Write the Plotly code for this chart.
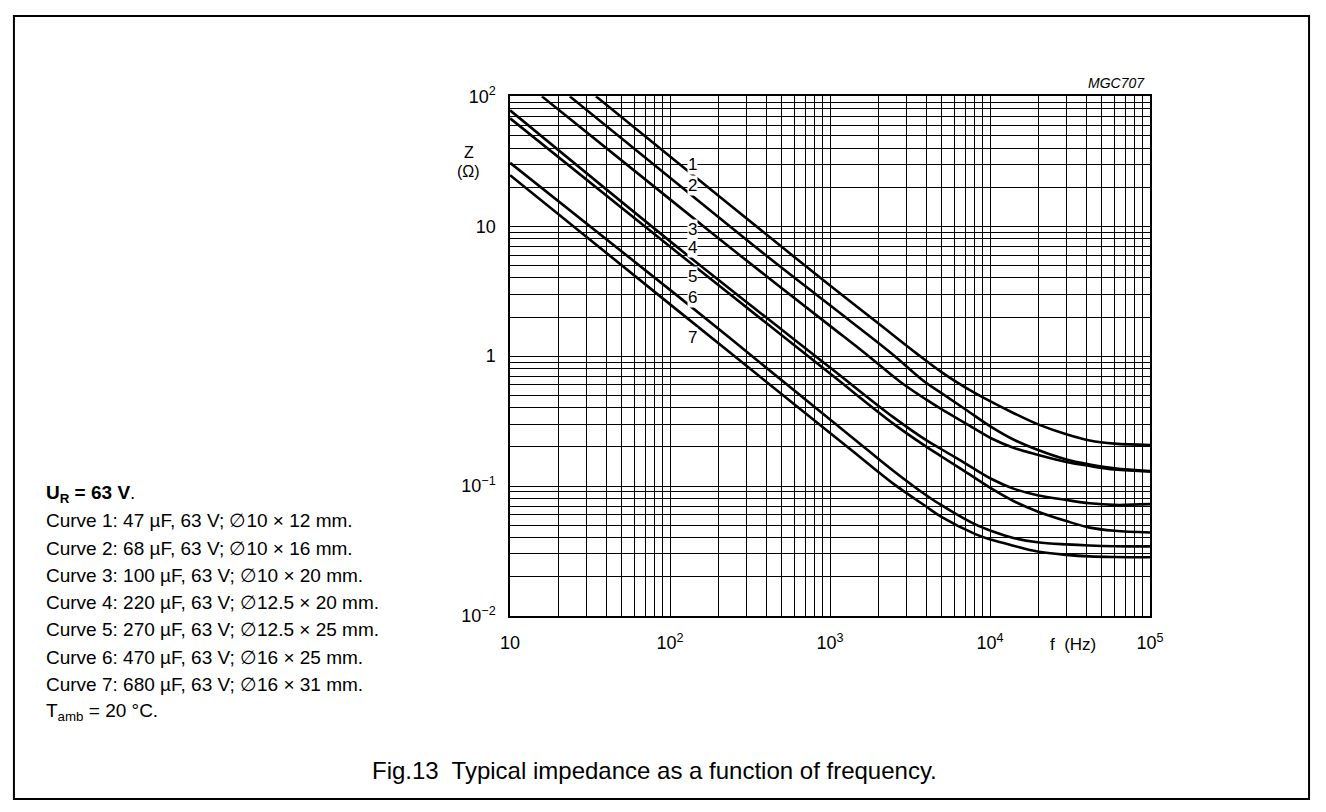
import plotly.graph_objects as go

# ---- data (f in Hz, Z in ohm) ----
f1 = [34.4, 100, 580, 1000, 2000, 3470, 5000, 7000, 10000, 14000, 20000, 30000, 42000, 60000, 100000]
z1 = [100, 34.4, 5.98, 3.5, 1.79, 1.05, 0.75, 0.575, 0.45, 0.365, 0.298, 0.250, 0.224, 0.212, 0.207]

f2 = [23.6, 100, 397, 1000, 2383, 3900, 5000, 7000, 10230, 14000, 19800, 30000, 42000, 60000, 100000]
z2 = [100, 23.6, 5.98, 2.46, 1.066, 0.635, 0.517, 0.39, 0.284, 0.228, 0.190, 0.160, 0.1466, 0.137, 0.1306]

f3 = [15.8, 100, 273, 1000, 1633, 2742, 4000, 5000, 7000, 10230, 14000, 19800, 30000, 42000, 60000, 100000]
z3 = [100, 16.1, 5.98, 1.71, 1.066, 0.635, 0.462, 0.389, 0.305, 0.232, 0.197, 0.174, 0.153, 0.1425, 0.134, 0.129]

f4 = [10, 128.5, 1000, 2495, 3990, 5000, 7000, 10230, 14000, 19800, 30000, 42000, 60000, 100000]
z4 = [78.1, 5.98, 0.817, 0.3375, 0.2254, 0.191, 0.1496, 0.1132, 0.0955, 0.0849, 0.078, 0.0736, 0.0715, 0.0725]

f5 = [10, 116.7, 1000, 2495, 3990, 5000, 7000, 10230, 14000, 19800, 30000, 42000, 60000, 100000]
z5 = [67.7, 5.98, 0.734, 0.301, 0.201, 0.168, 0.129, 0.0953, 0.0767, 0.0637, 0.0537, 0.0478, 0.0452, 0.0438]

f6 = [10, 111.4, 1000, 1710, 2495, 3990, 5000, 8091, 10230, 14000, 19800, 30000, 42000, 60000, 100000]
z6 = [30.8, 2.91, 0.325, 0.190, 0.1306, 0.0849, 0.0708, 0.0506, 0.045, 0.0398, 0.0369, 0.0355, 0.0348, 0.0344, 0.0343]

f7 = [10, 111.4, 1000, 1352, 2495, 3990, 5000, 8091, 10230, 14000, 19800, 30000, 42000, 60000, 100000]
z7 = [24.7, 2.25, 0.256, 0.190, 0.1038, 0.0695, 0.0575, 0.0426, 0.0385, 0.0347, 0.0313, 0.0295, 0.0287, 0.0284, 0.0283]

curve_names = ["1", "2", "3", "4", "5", "6", "7"]

x_tickvals = [10, 100, 1000, 10000, 100000]
x_ticktext = ["10", "10<sup>2</sup>", "10<sup>3</sup>", "10<sup>4</sup>", "10<sup>5</sup>"]
y_tickvals = [0.01, 0.1, 1, 10, 100]
y_ticktext = ["10<sup>\u22122</sup>", "10<sup>\u22121</sup>", "1", "10", "10<sup>2</sup>"]

info_lines = [
    "<b>U<sub>R</sub> = 63 V</b>.",
    "Curve 1: 47 \u00b5F, 63 V; \u220510 \u00d7 12 mm.",
    "Curve 2: 68 \u00b5F, 63 V; \u220510 \u00d7 16 mm.",
    "Curve 3: 100 \u00b5F, 63 V; \u220510 \u00d7 20 mm.",
    "Curve 4: 220 \u00b5F, 63 V; \u220512.5 \u00d7 20 mm.",
    "Curve 5: 270 \u00b5F, 63 V; \u220512.5 \u00d7 25 mm.",
    "Curve 6: 470 \u00b5F, 63 V; \u220516 \u00d7 25 mm.",
    "Curve 7: 680 \u00b5F, 63 V; \u220516 \u00d7 31 mm.",
    "T<sub>amb</sub> = 20 \u00b0C.",
]
caption = "Fig.13\u00a0 Typical impedance as a function of frequency."

# ---- figure ----
W, H = 1326, 812
FONT = "Arial, Liberation Sans, sans-serif"

def px(x):
    return x / W

def py(y):
    return 1 - y / H

fig = go.Figure()
for fs, zs, nm in zip([f1, f2, f3, f4, f5, f6, f7], [z1, z2, z3, z4, z5, z6, z7], curve_names):
    fig.add_trace(go.Scatter(x=fs, y=zs, mode="lines", name=nm, showlegend=False,
                             line=dict(color="black", width=2.6, shape="spline", smoothing=1.0)))

x_minor = [m * 10 ** e for e in range(1, 5) for m in range(2, 10)]
y_minor = [m * 10 ** e for e in range(-2, 2) for m in range(2, 10)]

fig.update_layout(
    width=W, height=H,
    margin=dict(l=0, r=0, t=0, b=0),
    paper_bgcolor="white", plot_bgcolor="white",
    font=dict(family=FONT, color="black", size=17),
    xaxis=dict(type="log", range=[1, 5], domain=[px(509.3), px(1161)],
               tickvals=x_tickvals, ticktext=x_ticktext, ticks="", ticklabelstandoff=10,
               showgrid=True, gridcolor="black", gridwidth=1,
               showline=True, mirror=True, linecolor="black", linewidth=1.5,
               zeroline=False, tickfont=dict(size=18),
               minor=dict(tickvals=x_minor, showgrid=True, gridcolor="black", gridwidth=1, ticks="")),
    yaxis=dict(type="log", range=[-2, 2], domain=[py(620.7), py(86.7)],
               tickvals=y_tickvals, ticktext=y_ticktext, ticks="", ticklabelstandoff=9,
               showgrid=True, gridcolor="black", gridwidth=1,
               showline=True, mirror=True, linecolor="black", linewidth=1.5,
               zeroline=False, tickfont=dict(size=18),
               minor=dict(tickvals=y_minor, showgrid=True, gridcolor="black", gridwidth=1, ticks="")),
)

ann = []
# curve labels
label_y = [156.7, 178.3, 223.3, 241.7, 272.3, 293.3, 335]
for nm, yy in zip(curve_names, label_y):
    ann.append(dict(x=px(695), y=py(yy), xref="paper", yref="paper", text=nm, showarrow=False,
                    xanchor="center", yanchor="middle", bgcolor="white", borderpad=0,
                    font=dict(size=17)))
# axis titles
ann.append(dict(x=px(467), y=py(144), xref="paper", yref="paper", text="Z", showarrow=False,
                xanchor="center", yanchor="middle", font=dict(size=16)))
ann.append(dict(x=px(467), y=py(163.5), xref="paper", yref="paper", text="(\u03a9)", showarrow=False,
                xanchor="center", yanchor="middle", font=dict(size=16)))
ann.append(dict(x=px(1083), y=py(650), xref="paper", yref="paper", text="f\u00a0 (Hz)", showarrow=False,
                xanchor="center", yanchor="middle", font=dict(size=17)))
ann.append(dict(x=px(1158), y=py(73), xref="paper", yref="paper", text="<i>MGC707</i>", showarrow=False,
                xanchor="right", yanchor="middle", font=dict(size=14)))
# info block
for i, t in enumerate(info_lines):
    ann.append(dict(x=px(35), y=py(495 + 28 * i), xref="paper", yref="paper", text=t, showarrow=False,
                    xanchor="left", yanchor="middle", align="left", font=dict(size=19)))
ann.append(dict(x=px(367), y=py(780), xref="paper", yref="paper", text=caption, showarrow=False,
                xanchor="left", yanchor="middle", font=dict(size=24)))
fig.update_layout(annotations=ann)

# outer frame
fig.add_shape(type="rect", xref="paper", yref="paper", x0=px(4), x1=px(1323), y0=py(809), y1=py(4),
              line=dict(color="black", width=2), fillcolor="rgba(0,0,0,0)", layer="above")

fig.write_html("out.html", config={"displayModeBar": False},
               post_script="document.body.style.margin='0';")
